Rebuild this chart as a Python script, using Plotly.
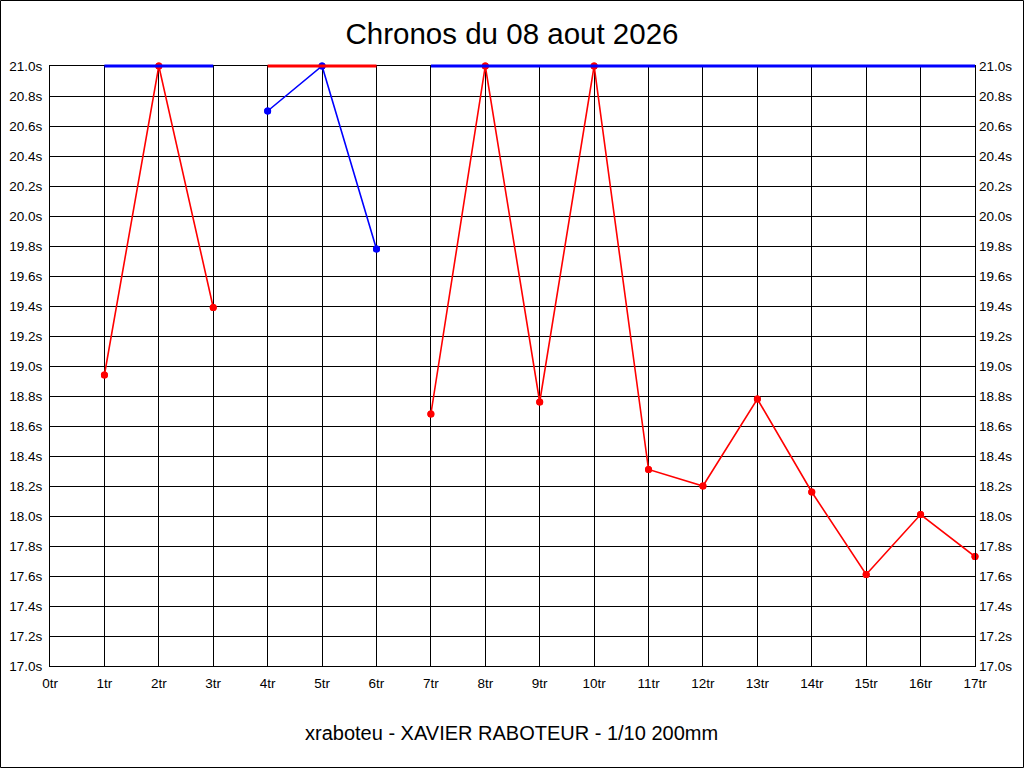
import plotly.graph_objects as go

# tours (x) and chronos (s)
tours_a = [1, 2, 3]
chronos_a = [18.94, 21.0, 19.39]

tours_b = [4, 5, 6]
chronos_b = [20.70, 21.0, 19.78]

tours_c = [7, 8, 9, 10, 11, 12, 13, 14, 15, 16, 17]
chronos_c = [18.68, 21.0, 18.76, 21.0, 18.31, 18.20, 18.78, 18.16, 17.61, 18.01, 17.73]

# colour bars along the top of the chart (start, end, colour)
bars = [(1, 3, "#0000ff"), (4, 6, "#ff0000"), (7, 17, "#0000ff")]

y_ticks = [round(17.0 + 0.2 * i, 1) for i in range(21)]
y_labels = [f"{v:.1f}s" for v in y_ticks]
x_ticks = list(range(18))
x_labels = [f"{t}tr" for t in x_ticks]

W, H = 1024, 768
L, R, T, B = 50, 49, 66, 102
pw, ph = W - L - R, H - T - B

series = [(tours_a, chronos_a, "#ff0000"),
          (tours_b, chronos_b, "#0000ff"),
          (tours_c, chronos_c, "#ff0000")]

fig = go.Figure()

for xs, ys, col in series:
    fig.add_trace(go.Scatter(x=xs, y=ys, mode="lines+markers",
                             line=dict(color=col, width=1.6),
                             marker=dict(color=col, size=7),
                             cliponaxis=False))

# top bars: x on data scale, y at the top edge (paper) so they are not clipped
for x0, x1, col in bars:
    fig.add_shape(type="line", xref="x", yref="paper", x0=x0, x1=x1, y0=1, y1=1,
                  line=dict(color=col, width=3), layer="above")

# re-draw the markers on top of the bars
for xs, ys, col in series:
    fig.add_trace(go.Scatter(x=xs, y=ys, mode="markers",
                             marker=dict(color=col, size=7),
                             cliponaxis=False, hoverinfo="skip"))

axis_font = dict(family="Liberation Sans, Arial", size=13.5, color="#000000")

fig.update_layout(
    width=W, height=H,
    margin=dict(l=L, r=R, t=T, b=B, autoexpand=False),
    paper_bgcolor="white", plot_bgcolor="white",
    showlegend=False,
    title=dict(text="Chronos du 08 aout 2026", x=0.5, xanchor="center",
               y=1 - 34 / H, yanchor="middle",
               font=dict(family="Liberation Sans, Arial", size=29.5, color="#000000")),
    xaxis=dict(range=[0, 17], tickvals=x_ticks, ticktext=x_labels, automargin=False,
               showgrid=True, gridcolor="#000000", gridwidth=1,
               showline=True, mirror=True, linecolor="#000000", linewidth=1,
               zeroline=False, ticks="", ticklabelstandoff=5, tickfont=axis_font),
    yaxis=dict(range=[17.0, 21.0], tickvals=y_ticks, ticktext=y_labels, automargin=False,
               showgrid=True, gridcolor="#000000", gridwidth=1,
               showline=True, mirror=True, linecolor="#000000", linewidth=1,
               zeroline=False, ticks="", ticklabelstandoff=4, tickfont=axis_font),
    yaxis2=dict(range=[17.0, 21.0], tickvals=y_ticks, ticktext=y_labels, automargin=False,
                overlaying="y", side="right", showgrid=False, zeroline=False,
                showline=False, ticks="", ticklabelstandoff=3, tickfont=axis_font),
)

# bottom caption
fig.add_annotation(text="xraboteu - XAVIER RABOTEUR - 1/10 200mm",
                   xref="paper", yref="paper", x=(511 - L) / pw, y=-(733 - (H - B)) / ph,
                   xanchor="center", yanchor="middle", showarrow=False,
                   font=dict(family="Liberation Sans, Arial", size=20, color="#000000"))

# outer frame of the image
fig.add_shape(type="rect", xref="paper", yref="paper",
              x0=(0.5 - L) / pw, x1=(W - 0.5 - L) / pw,
              y0=-(B - 0.5) / ph, y1=1 + (T - 0.5) / ph,
              line=dict(color="#000000", width=1), layer="below")

# invisible point so the right axis is drawn
fig.add_trace(go.Scatter(x=[0], y=[17.0], yaxis="y2", mode="markers",
                         marker=dict(opacity=0), hoverinfo="skip"))

fig.write_html("out.html", config={"displayModeBar": False},
               post_script="document.body.style.margin='0';")
